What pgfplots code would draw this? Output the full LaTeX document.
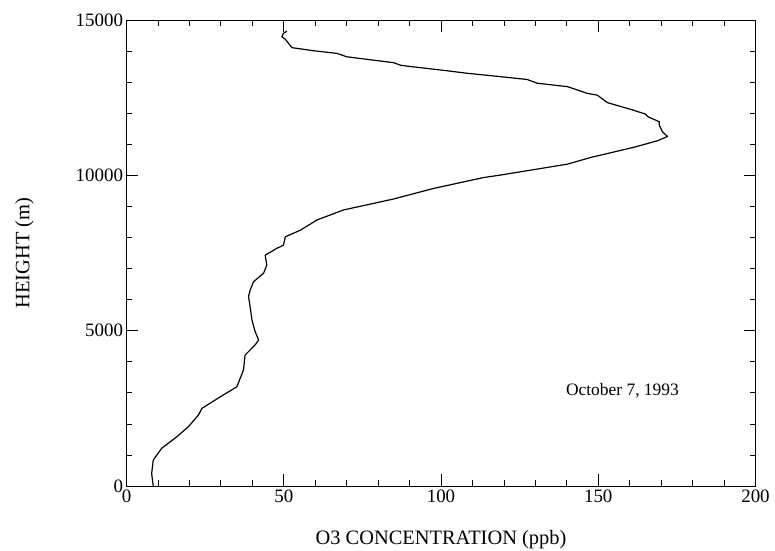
\documentclass[border=0pt]{standalone}
\usepackage{fontspec}
\setmainfont{Liberation Serif}
\usepackage{pgfplots}
\pgfplotsset{compat=1.18}
\begin{document}
\begin{tikzpicture}
\begin{axis}[
  at={(0,0)}, anchor=south west,
  scale only axis,
  width=629bp, height=466bp,
  xmin=0, xmax=200, ymin=0, ymax=15000,
  xtick={0,50,100,150,200},
  ytick={0,5000,10000,15000},
  minor x tick num=4,
  minor y tick num=4,
  tick align=inside,
  xtick pos=both, ytick pos=both,
  xticklabel pos=lower, yticklabel pos=left,
  major tick length=12bp,
  minor tick length=6bp,
  scaled ticks=false,
  /pgf/number format/assume math mode=true,
  /pgf/number format/1000 sep={},
  ticklabel style={font=\fontsize{19}{22}\selectfont},
  label style={font=\fontsize{20.5}{24}\selectfont},
  xlabel={O3 CONCENTRATION (ppb)},
  ylabel={HEIGHT (m)},
  xlabel style={at={(axis description cs:0.5,-0.1159)}, anchor=center},
  ylabel style={at={(axis description cs:-0.1622,0.5)}, anchor=center},
  axis line style={line width=0.8bp},
  every tick/.style={black, line width=0.7bp},
]
\addplot[black, line width=1.2bp, line join=round] coordinates {
(8.5,0) (8.0,400) (8.5,835) (11.2,1215) (16.0,1585) (19.7,1910)
(22.9,2290) (24.0,2500) (29.8,2870) (35.1,3195) (37.2,3735) (37.7,4215)
(40.9,4540) (42.0,4700) (40.9,4970) (39.9,5340) (39.3,5775) (38.8,6095)
(39.3,6305) (40.4,6575) (43.6,6850) (44.6,7110) (44.1,7430) (47.8,7650)
(49.9,7750) (50.5,8020) (55.3,8235) (60.6,8565) (69.0,8885) (85.0,9240)
(97.7,9580) (113.6,9930) (119,10010) (140.2,10360) (147.6,10575)
(161.4,10905) (168.9,11115) (172.0,11250) (170.4,11405) (169.4,11615)
(169.4,11725) (165.7,11890) (165.1,11970) (160.4,12120) (152.9,12340)
(149.7,12580) (146.5,12640) (140.2,12855) (130.6,12965) (127.4,13085)
(119,13175) (108.3,13285) (102,13365) (89.2,13515) (87.1,13545) (85.0,13625)
(70.1,13815) (66.9,13925) (59.5,14010) (52.6,14110) (51.5,14250)
(50.5,14380) (49.4,14460) (49.9,14570) (51.0,14640)
};
\node[font=\fontsize{17.5}{20}\selectfont] at (axis cs:157.7,3050) {October 7, 1993};
\end{axis}
\pgfresetboundingbox
\path (-126.5bp,-65bp) rectangle (648.5bp,486bp);
\end{tikzpicture}
\end{document}
